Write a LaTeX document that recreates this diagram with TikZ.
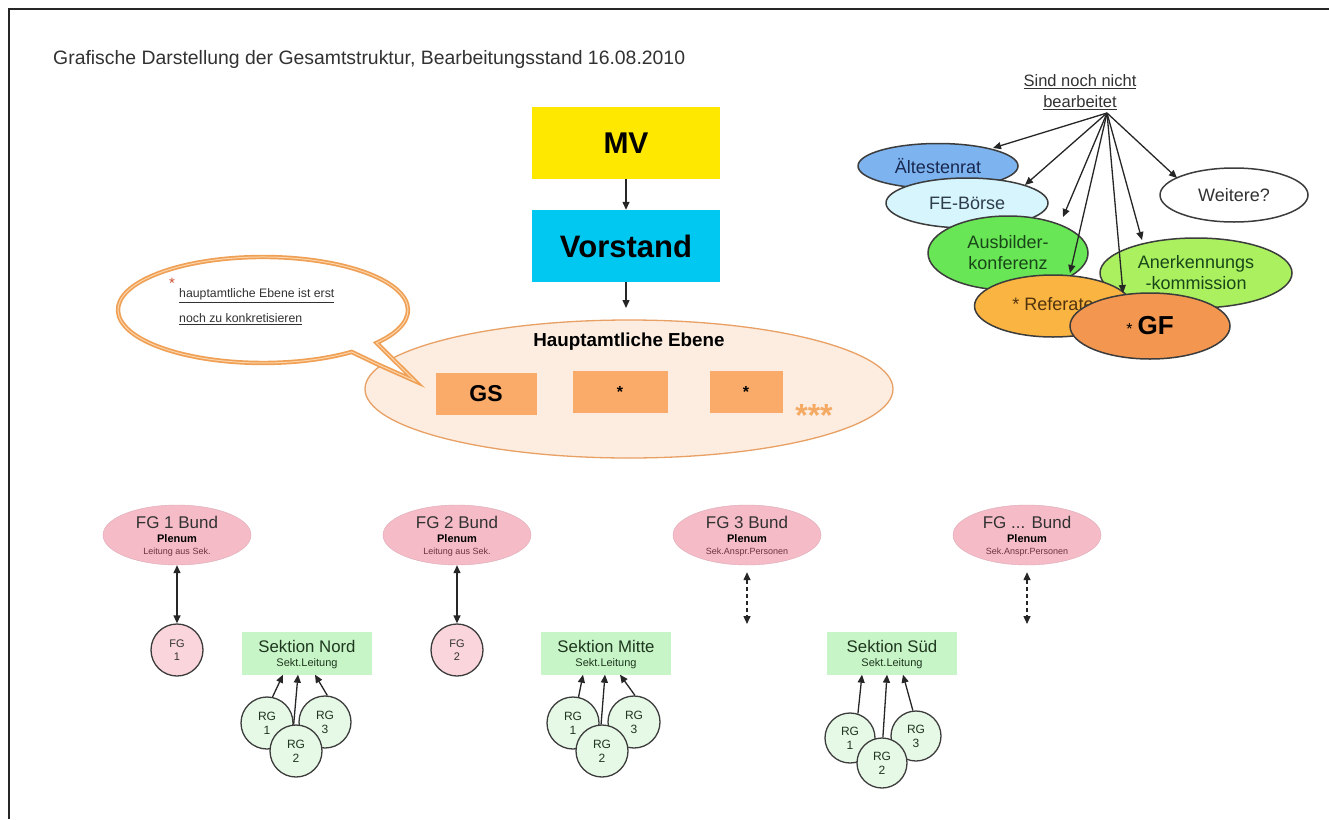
\documentclass[tikz,border=0pt]{standalone}
\usepackage{fontspec}
\setmainfont{Liberation Sans}
\usetikzlibrary{shapes.geometric,arrows.meta}
\newcommand{\fsz}[2]{\fontsize{#1pt}{#2pt}\selectfont}
\definecolor{mvyellow}{RGB}{255,232,0}
\definecolor{vcyan}{RGB}{0,200,240}
\definecolor{hafill}{RGB}{253,237,224}
\definecolor{haline}{RGB}{232,160,100}
\definecolor{boxorange}{RGB}{250,170,105}
\definecolor{starorange}{RGB}{245,170,100}
\definecolor{bubline}{RGB}{240,160,85}
\definecolor{bubhi}{RGB}{252,212,170}
\definecolor{bubstar}{RGB}{205,75,45}
\definecolor{altblue}{RGB}{125,180,240}
\definecolor{febcyan}{RGB}{215,245,252}
\definecolor{ausgreen}{RGB}{105,230,85}
\definecolor{anegreen}{RGB}{170,240,95}
\definecolor{refor}{RGB}{250,180,65}
\definecolor{gfor}{RGB}{242,150,80}
\definecolor{fgpink}{RGB}{245,188,200}
\definecolor{fgcirc}{RGB}{250,214,220}
\definecolor{sekgreen}{RGB}{200,245,200}
\definecolor{rgfill}{RGB}{230,248,230}
\definecolor{outl}{RGB}{60,60,60}
\definecolor{txtgray}{RGB}{50,50,50}
\definecolor{sektxt}{RGB}{30,55,30}
\definecolor{fgsmall}{RGB}{110,50,60}
\definecolor{alttxt}{RGB}{25,40,80}
\definecolor{febtxt}{RGB}{45,60,75}
\definecolor{grtxt}{RGB}{25,70,25}
\definecolor{reftxt}{RGB}{80,50,15}
\tikzset{
  arrowline/.style={-{Triangle[length=8pt,width=7pt]}, line width=1.3pt, draw=black!85},
  biarrow/.style={{Triangle[length=8pt,width=7pt]}-{Triangle[length=8pt,width=7pt]}, line width=1.4pt, draw=black!85},
  dbiarrow/.style={biarrow, dash pattern=on 4pt off 3pt},
  topbox/.style={rectangle, inner sep=0, minimum width=188pt, minimum height=72pt},
  obox/.style={rectangle, fill=boxorange, inner sep=0, minimum height=42pt},
  cell/.style={ellipse, draw=outl, line width=1.5pt, inner sep=0, align=center, font=\fsz{18}{21}},
  fgbund/.style={ellipse, fill=fgpink, draw=fgpink!90!black, line width=0.4pt, inner sep=0, minimum width=148pt, minimum height=60pt},
  fgc/.style={circle, fill=fgcirc, draw=outl, line width=1.3pt, inner sep=0, minimum size=52pt, align=center, text=txtgray, font=\fsz{11}{13}},
  sek/.style={rectangle, fill=sekgreen, inner sep=0, minimum width=130pt, minimum height=43pt},
  rg/.style={circle, fill=rgfill, draw=outl, line width=1.3pt, inner sep=0, minimum size=52pt, align=center, text=sektxt, font=\fsz{12}{14}},
  lbl/.style={inner sep=0},
}
\begin{document}
\begin{tikzpicture}[x=1pt,y=-1pt]
\useasboundingbox (0,0) rectangle (1329,819);
\fill[white] (0,0) rectangle (1329,819);
\draw[line width=2pt, black!85] (1329,8.5) -- (8.5,8.5) -- (8.5,819);

% title
\node[lbl, anchor=west, text=txtgray] (title) at (53,59) {\fsz{19.4}{22}Grafische Darstellung der Gesamtstruktur, Bearbeitungsstand 16.08.2010};

% top boxes
\node[topbox, fill=mvyellow] (mv) at (626,143) {\fsz{30}{32}\bfseries MV};
\node[topbox, fill=vcyan] (vor) at (626,246) {\fsz{31}{34}\bfseries Vorstand};
\coordinate (vend) at (626,308);
\draw[arrowline] (mv) -- (vor);
\draw[arrowline] (vor) -- (vend);

% Hauptamtliche Ebene
\node[ellipse, fill=hafill, draw=haline, line width=1.3pt, minimum width=528pt, minimum height=138pt, inner sep=0] (ha) at (629,389) {};
\node[lbl] (hatitle) at (629,342) {\fsz{18.8}{21}\bfseries Hauptamtliche Ebene};
\node[obox, minimum width=101pt] (gs) at (486,394) {\fsz{23}{26}\bfseries GS};
\node[obox, minimum width=95pt] (st1) at (620,392) {\fsz{16}{18}\bfseries *};
\node[obox, minimum width=73pt] (st2) at (746,392) {\fsz{16}{18}\bfseries *};
\node[lbl, text=starorange] (stars) at (814,415) {\fsz{32}{34}\bfseries ***};

% speech bubble
\filldraw[fill=white, draw=bubline, line width=1.7pt, double=bubhi, double distance=1pt, line join=miter]
  (376.6,342.9) arc[start angle=38.4, end angle=-307.7, x radius=145, y radius=53]
  -- (379,365) -- (415,381) -- cycle;
\node[lbl, text=bubstar] (bstar) at (172,283) {\fsz{15}{15}*};
\node[lbl, anchor=west, align=left, text=txtgray, font=\fsz{12.3}{25}] (btxt) at (179,307)
  {\underline{hauptamtliche Ebene ist erst}\\\underline{noch zu konkretisieren}};

% right cluster
\node[lbl, text=txtgray, align=center, font=\fsz{16.5}{20.5}] (sind) at (1080,92) {\underline{Sind noch nicht}\\\underline{bearbeitet}};
\coordinate (src) at (1107,113);
\node[cell, fill=altblue, minimum width=160pt, minimum height=45pt, text=alttxt] (alt) at (938,166) {Ältestenrat};
\node[cell, fill=febcyan, minimum width=162pt, minimum height=50pt, text=febtxt] (feb) at (967,203) {FE-Börse};
\node[cell, fill=ausgreen, minimum width=160pt, minimum height=74pt, text=grtxt] (ausb) at (1008,253) {Ausbilder-\\konferenz};
\node[cell, fill=anegreen, minimum width=192pt, minimum height=70pt, text=grtxt] (aner) at (1196,273) {Anerkennungs\\-kommission};
\node[cell, fill=refor, minimum width=157pt, minimum height=62pt, text=reftxt] (ref) at (1053,306) {\raisebox{5pt}{* Referate}};
\node[cell, fill=gfor, minimum width=160pt, minimum height=66pt, text=black] (gf) at (1150,326) {{\fsz{16}{18}*} {\fsz{26}{28}\bfseries GF}};
\node[cell, fill=white, minimum width=148pt, minimum height=54pt, text=txtgray] (wei) at (1234,195) {Weitere?};
\draw[arrowline] (src) -- ([shift={(55,-18)}]alt.center);
\draw[arrowline] (src) -- ([shift={(58,-18)}]feb.center);
\draw[arrowline] (src) -- ([shift={(55,-36)}]ausb.center);
\draw[arrowline] (src) -- ([shift={(17,-33)}]ref.center);
\draw[arrowline] (src) -- ([shift={(-27,-33)}]gf.center);
\draw[arrowline] (src) -- ([shift={(-54,-33)}]aner.center);
\draw[arrowline] (src) -- ([shift={(-57,-17)}]wei.center);

% FG Bund ellipses
\node[fgbund] (fg1b) at (177,535) {};
\node[lbl, text=txtgray] (fg1bt) at (177,522) {\fsz{17}{19}FG 1 Bund};
\node[lbl] (fg1bp) at (177,539) {\fsz{11}{12}\bfseries Plenum};
\node[lbl, text=fgsmall] (fg1bl) at (177,552) {\fsz{9}{10}Leitung aus Sek.};
\node[fgbund] (fg2b) at (457,535) {};
\node[lbl, text=txtgray] (fg2bt) at (457,522) {\fsz{17}{19}FG 2 Bund};
\node[lbl] (fg2bp) at (457,539) {\fsz{11}{12}\bfseries Plenum};
\node[lbl, text=fgsmall] (fg2bl) at (457,552) {\fsz{9}{10}Leitung aus Sek.};
\node[fgbund] (fg3b) at (747,535) {};
\node[lbl, text=txtgray] (fg3bt) at (747,522) {\fsz{17}{19}FG 3 Bund};
\node[lbl] (fg3bp) at (747,539) {\fsz{11}{12}\bfseries Plenum};
\node[lbl, text=fgsmall] (fg3bl) at (747,552) {\fsz{9}{10}Sek.Anspr.Personen};
\node[fgbund] (fg4b) at (1027,535) {};
\node[lbl, text=txtgray] (fg4bt) at (1027,522) {\fsz{17}{19}FG ... Bund};
\node[lbl] (fg4bp) at (1027,539) {\fsz{11}{12}\bfseries Plenum};
\node[lbl, text=fgsmall] (fg4bl) at (1027,552) {\fsz{9}{10}Sek.Anspr.Personen};

% FG circles and arrows
\node[fgc] (fg1) at (177,650) {FG\\1};
\node[fgc] (fg2) at (457,650) {FG\\2};
\draw[biarrow] (fg1b.south) -- (fg1.north);
\draw[biarrow] (fg2b.south) -- (fg2.north);
\coordinate (fg3e) at (747,624);
\coordinate (fg4e) at (1027,624);
\draw[dbiarrow] ([yshift=-7pt]fg3b.south) -- (fg3e);
\draw[dbiarrow] ([yshift=-7pt]fg4b.south) -- (fg4e);

% Sektionen
\node[sek] (sekN) at (307,653) {};
\node[lbl, text=sektxt] (sekNt) at (307,646) {\fsz{16.8}{18}Sektion Nord};
\node[lbl, text=sektxt] (sekNl) at (307,664) {\fsz{11}{12}Sekt.Leitung};
\node[sek] (sekM) at (606,653) {};
\node[lbl, text=sektxt] (sekMt) at (606,646) {\fsz{16.8}{18}Sektion Mitte};
\node[lbl, text=sektxt] (sekMl) at (606,664) {\fsz{11}{12}Sekt.Leitung};
\node[sek] (sekS) at (892,653) {};
\node[lbl, text=sektxt] (sekSt) at (892,646) {\fsz{16.8}{18}Sektion Süd};
\node[lbl, text=sektxt] (sekSl) at (892,664) {\fsz{11}{12}Sekt.Leitung};

% RG circles
\node[rg] (nrg1) at (267,723) {RG\\1};
\node[rg] (nrg3) at (325,722) {RG\\3};
\node[rg] (nrg2) at (296,751) {RG\\2};
\node[rg] (mrg1) at (573,723) {RG\\1};
\node[rg] (mrg3) at (634,722) {RG\\3};
\node[rg] (mrg2) at (602,751) {RG\\2};
\node[rg, minimum size=50pt] (srg1) at (850,738) {RG\\1};
\node[rg, minimum size=50pt] (srg3) at (916,736) {RG\\3};
\node[rg, minimum size=50pt] (srg2) at (882,763) {RG\\2};

\draw[arrowline] (nrg1.78) -- ([xshift=-24pt]sekN.south);
\draw[arrowline] (nrg2.95) -- ([xshift=-9pt]sekN.south);
\draw[arrowline] (nrg3.85) -- ([xshift=8pt]sekN.south);
\draw[arrowline] (mrg1.78) -- ([xshift=-23pt]sekM.south);
\draw[arrowline] (mrg2.92) -- ([xshift=-1pt]sekM.south);
\draw[arrowline] (mrg3.88) -- ([xshift=14pt]sekM.south);
\draw[arrowline] (srg1.72) -- ([xshift=-30pt]sekS.south);
\draw[arrowline] (srg2.88) -- ([xshift=-5pt]sekS.south);
\draw[arrowline] (srg3.97) -- ([xshift=11pt]sekS.south);
\end{tikzpicture}
\end{document}
